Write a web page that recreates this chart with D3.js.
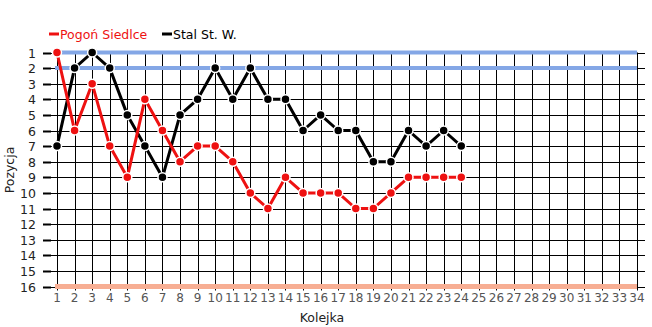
<!DOCTYPE html>
<html>
<head>
<meta charset="utf-8">
<script src="https://d3js.org/d3.v7.min.js"></script>
<style>
  body { margin: 0; background: #fff; }
  text { font-family: "DejaVu Sans", Verdana, sans-serif; }
</style>
</head>
<body>
<div id="chart"></div>
<script>
  // data
  var rounds = d3.range(1, 35);
  var positions = d3.range(1, 17);
  var pogon = [1, 6, 3, 7, 9, 4, 6, 8, 7, 7, 8, 10, 11, 9, 10, 10, 10, 11, 11, 10, 9, 9, 9, 9];
  var stal = [7, 2, 1, 2, 5, 7, 9, 5, 4, 2, 4, 2, 4, 4, 6, 5, 6, 6, 8, 8, 6, 7, 6, 7];
  var seriesNames = ["Pogoń Siedlce", "Stal St. W."];
  var seriesColors = ["#ee1111", "#000000"];
  var topBands = [1, 2];
  var bottomBands = [16];

  var width = 652, height = 327;

  var svg = d3.select("#chart")
    .append("svg")
      .attr("width", width)
      .attr("height", height);

  var x = d3.scaleLinear()
    .domain([1, 34])
    .range([57, 637]);

  var y = d3.scaleLinear()
    .domain([1, 16])
    .range([52.5, 286.5]);

  // horizontal grid
  svg.append("g")
    .selectAll("line")
    .data(positions)
    .enter()
    .append("line")
      .attr("x1", 44)
      .attr("x2", 645)
      .attr("y1", function(d) { return Math.round(y(d)) + 0.5; })
      .attr("y2", function(d) { return Math.round(y(d)) + 0.5; })
      .attr("stroke", "#000")
      .attr("stroke-width", 1);

  // y ticks (thicker)
  svg.append("g")
    .selectAll("line")
    .data(positions)
    .enter()
    .append("line")
      .attr("x1", 43)
      .attr("x2", 51)
      .attr("y1", function(d) { return Math.round(y(d)) + 0.5; })
      .attr("y2", function(d) { return Math.round(y(d)) + 0.5; })
      .attr("stroke", "#000")
      .attr("stroke-width", 2);

  // vertical grid
  svg.append("g")
    .selectAll("line")
    .data(rounds)
    .enter()
    .append("line")
      .attr("x1", function(d) { return Math.round(x(d)) + 0.5; })
      .attr("x2", function(d) { return Math.round(x(d)) + 0.5; })
      .attr("y1", y(1))
      .attr("y2", y(16) + 4)
      .attr("stroke", "#000")
      .attr("stroke-width", 1);

  // bands
  svg.append("g")
    .selectAll("line")
    .data(topBands)
    .enter()
    .append("line")
      .attr("x1", 55)
      .attr("x2", 637)
      .attr("y1", function(d) { return y(d); })
      .attr("y2", function(d) { return y(d); })
      .attr("stroke", "#84a7e6")
      .attr("stroke-width", 4);

  svg.append("g")
    .selectAll("line")
    .data(bottomBands)
    .enter()
    .append("line")
      .attr("x1", 55)
      .attr("x2", 637)
      .attr("y1", function(d) { return y(d); })
      .attr("y2", function(d) { return y(d); })
      .attr("stroke", "#f7ae93")
      .attr("stroke-width", 5);

  // y labels
  svg.append("g")
    .selectAll("text")
    .data(positions)
    .enter()
    .append("text")
      .attr("x", 36)
      .attr("y", function(d) { return y(d) + 5; })
      .attr("text-anchor", "end")
      .attr("font-size", 12.5)
      .attr("fill", "#222")
      .text(function(d) { return d; });

  // x labels
  svg.append("g")
    .selectAll("text")
    .data(rounds)
    .enter()
    .append("text")
      .attr("x", function(d) { return x(d); })
      .attr("y", 302)
      .attr("text-anchor", "middle")
      .attr("font-size", 12)
      .attr("fill", "#555")
      .text(function(d) { return d; });

  // axis titles
  svg.append("text")
    .attr("x", 322)
    .attr("y", 322)
    .attr("text-anchor", "middle")
    .attr("font-size", 12.5)
    .attr("fill", "#222")
    .text("Kolejka");

  svg.append("text")
    .attr("transform", "translate(14,170) rotate(-90)")
    .attr("text-anchor", "middle")
    .attr("font-size", 12.5)
    .attr("fill", "#222")
    .text("Pozycja");

  // series
  var line = d3.line()
    .x(function(d, i) { return x(i + 1); })
    .y(function(d) { return y(d); });

  [stal, pogon].forEach(function(vals, k) {
    var color = k === 0 ? seriesColors[1] : seriesColors[0];
    svg.append("path")
      .datum(vals)
      .attr("d", line)
      .attr("fill", "none")
      .attr("stroke", color)
      .attr("stroke-width", 3)
      .attr("stroke-linejoin", "round");

    svg.append("g")
      .selectAll("circle")
      .data(vals)
      .enter()
      .append("circle")
        .attr("cx", function(d, i) { return x(i + 1); })
        .attr("cy", function(d) { return y(d); })
        .attr("r", 4.5)
        .attr("fill", color)
        .attr("stroke", "#fff")
        .attr("stroke-width", 1.5);
  });

  // legend
  var legendX = [49, 162];
  var legend = svg.append("g")
    .selectAll("g")
    .data(seriesNames)
    .enter()
    .append("g")
      .attr("transform", function(d, i) { return "translate(" + legendX[i] + ",34)"; });

  legend.append("line")
    .attr("x1", 0)
    .attr("x2", 10)
    .attr("stroke", function(d, i) { return seriesColors[i]; })
    .attr("stroke-width", 3);

  legend.append("text")
    .attr("x", 11)
    .attr("y", 4.5)
    .attr("font-size", 12.5)
    .attr("fill", function(d, i) { return seriesColors[i]; })
    .text(function(d) { return d; });
</script>
</body>
</html>
